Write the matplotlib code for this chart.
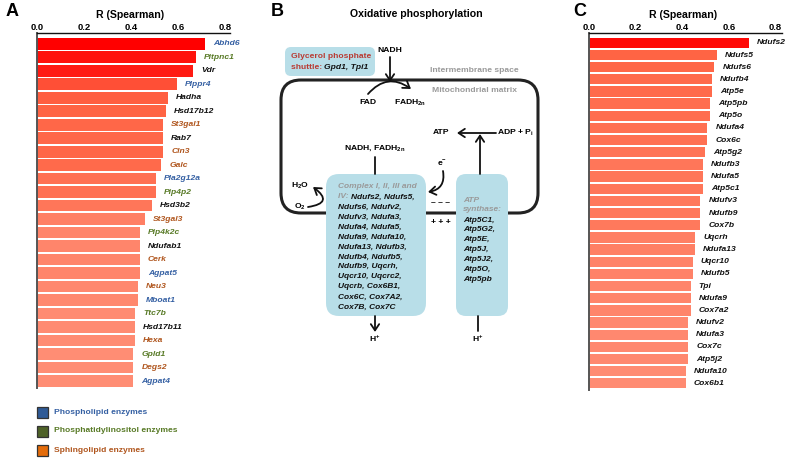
import matplotlib
matplotlib.use('Agg')
import matplotlib.pyplot as plt
from matplotlib.patches import FancyBboxPatch, Rectangle, FancyArrowPatch
from matplotlib.colors import to_rgb
import numpy as np

plt.rcParams['font.family'] = ['Liberation Sans', 'DejaVu Sans']
plt.rcParams['font.weight'] = 'bold'
plt.rcParams['mathtext.fontset'] = 'custom'
plt.rcParams['mathtext.rm'] = 'Liberation Sans:bold'
plt.rcParams['mathtext.it'] = 'Liberation Sans:bold:italic'
plt.rcParams['mathtext.bf'] = 'Liberation Sans:bold'

# ---------------- data ----------------
genes_a = ['Abhd6', 'Pitpnc1', 'Vdr', 'Plppr4', 'Hadha', 'Hsd17b12', 'St3gal1', 'Rab7',
           'Cln3', 'Galc', 'Pla2g12a', 'Pip4p2', 'Hsd3b2', 'St3gal3', 'Pip4k2c', 'Ndufab1',
           'Cerk', 'Agpat5', 'Neu3', 'Mboat1', 'Ttc7b', 'Hsd17b11', 'Hexa', 'Gpld1',
           'Degs2', 'Agpat4']
r_a = [0.715, 0.677, 0.665, 0.596, 0.558, 0.547, 0.537, 0.537, 0.537, 0.528, 0.506,
       0.506, 0.488, 0.458, 0.438, 0.438, 0.438, 0.438, 0.428, 0.428, 0.418, 0.418,
       0.418, 0.410, 0.410, 0.410]
group_a = ['PL', 'PI', 'O', 'PL', 'O', 'O', 'SL', 'O', 'SL', 'SL', 'PL', 'PI', 'O', 'SL',
           'PI', 'O', 'SL', 'PL', 'SL', 'PL', 'PI', 'O', 'SL', 'PI', 'SL', 'PL']

genes_c = ['Ndufs2', 'Ndufs5', 'Ndufs6', 'Ndufb4', 'Atp5e', 'Atp5pb', 'Atp5o', 'Ndufa4',
           'Cox6c', 'Atp5g2', 'Ndufb3', 'Ndufa5', 'Atp5c1', 'Ndufv3', 'Ndufb9', 'Cox7b',
           'Uqcrh', 'Ndufa13', 'Uqcr10', 'Ndufb5', 'Tpi', 'Ndufa9', 'Cox7a2', 'Ndufv2',
           'Ndufa3', 'Cox7c', 'Atp5j2', 'Ndufa10', 'Cox6b1']
r_c = [0.688, 0.548, 0.538, 0.528, 0.528, 0.518, 0.518, 0.508, 0.508, 0.498, 0.488,
       0.488, 0.488, 0.478, 0.478, 0.478, 0.456, 0.456, 0.446, 0.446, 0.436, 0.436,
       0.436, 0.426, 0.426, 0.426, 0.426, 0.416, 0.416]

xticks = [0.0, 0.2, 0.4, 0.6, 0.8]
xtick_labels = ['0.0', '0.2', '0.4', '0.6', '0.8']

legend_labels = ['Phospholipid enzymes', 'Phosphatidylinositol enzymes', 'Sphingolipid enzymes']
legend_groups = ['PL', 'PI', 'SL']

complex_lines = [
    [('Complex I, II, III and', 'g')],
    [('IV: ', 'g'), ('Ndufs2, Ndufs5,', 'k')],
    [('Ndufs6, Ndufv2,', 'k')],
    [('Ndufv3, Ndufa3,', 'k')],
    [('Ndufa4, Ndufa5,', 'k')],
    [('Ndufa9, Ndufa10,', 'k')],
    [('Ndufa13, Ndufb3,', 'k')],
    [('Ndufb4, Ndufb5,', 'k')],
    [('Ndufb9, Uqcrh,', 'k')],
    [('Uqcr10, Uqcrc2,', 'k')],
    [('Uqcrb, Cox6B1,', 'k')],
    [('Cox6C, Cox7A2,', 'k')],
    [('Cox7B, Cox7C', 'k')],
]
atp_lines = [
    [('ATP', 'g')],
    [('synthase:', 'g')],
    [('Atp5C1,', 'k')],
    [('Atp5G2,', 'k')],
    [('Atp5E,', 'k')],
    [('Atp5J,', 'k')],
    [('Atp5J2,', 'k')],
    [('Atp5O,', 'k')],
    [('Atp5pb', 'k')],
]

# ---------------- style ----------------
W, H, DPI = 789, 458, 100
label_colors = {'PL': '#3560A3', 'PI': '#587A26', 'SL': '#B0561E', 'O': '#111111'}
legend_fill = {'PL': '#2F5A96', 'PI': '#4F6228', 'SL': '#E46C0A'}
GRAY = '#9A9A9A'
BLUE_BOX = '#B8DEE8'
tcol = {'g': GRAY, 'k': '#111111', 'r': '#B83A32'}

anchor_v = [0.40, 0.55, 0.60, 0.70]
anchor_c = ['#FF9078', '#FF6343', '#FF4D35', '#FF0000']
_rgb = np.array([to_rgb(c) for c in anchor_c])


def bar_color(v):
    return tuple(float(np.interp(v, anchor_v, _rgb[:, k])) for k in range(3))


fig = plt.figure(figsize=(W / DPI, H / DPI), dpi=DPI)
fig.patch.set_facecolor('white')
ov = fig.add_axes([0, 0, 1, 1])
ov.set_xlim(0, W)
ov.set_ylim(H, 0)
ov.axis('off')
renderer = fig.canvas.get_renderer()


def bar_panel(left_px, px_per_unit, xmax, top_px, pitch, bar_h, top_units, bot_units,
              genes, vals, colors):
    n = len(genes)
    height_units = (n - 1) + top_units + bot_units
    hpx = height_units * pitch
    ax = fig.add_axes([left_px / W, 1 - (top_px + hpx) / H,
                       xmax * px_per_unit / W, hpx / H])
    y = np.arange(n)
    ax.barh(y, vals, height=bar_h, color=[bar_color(v) for v in vals],
            edgecolor='none', zorder=2)
    ax.set_ylim(n - 1 + bot_units, -top_units)
    ax.set_xlim(0, xmax)
    ax.xaxis.tick_top()
    ax.set_xticks(xticks)
    ax.set_xticklabels(xtick_labels, fontsize=6.8, fontweight='bold')
    ax.tick_params(axis='x', length=0, pad=1.0)
    ax.set_yticks([])
    ax.spines['right'].set_visible(False)
    ax.spines['bottom'].set_visible(False)
    ax.spines['top'].set_color('#111111')
    ax.spines['top'].set_linewidth(1.0)
    ax.spines['left'].set_color('#555555')
    ax.spines['left'].set_linewidth(1.4)
    ax.patch.set_alpha(0)
    for i, (g, v, c) in enumerate(zip(genes, vals, colors)):
        ax.annotate(g, (v, i), xytext=(8, 0), textcoords='offset pixels',
                    ha='left', va='center', fontsize=6.1, style='italic',
                    fontweight='bold', color=c, annotation_clip=False)
    return ax


bar_panel(37, 235, 0.82, 33, 13.49, 0.86, 0.80, 0.51,
          genes_a, r_a, [label_colors[g] for g in group_a])
bar_panel(589, 233, 0.83, 33, 12.16, 0.85, 0.81, 0.54,
          genes_c, r_c, ['#111111'] * len(genes_c))

# panel titles / letters
ov.text(130, 15, 'R (Spearman)', ha='center', va='center', fontsize=7.6, fontweight='bold')
ov.text(683, 15, 'R (Spearman)', ha='center', va='center', fontsize=7.6, fontweight='bold')
ov.text(416, 14, 'Oxidative phosphorylation', ha='center', va='center', fontsize=7.6,
        fontweight='bold')
for x, s in [(12, 'A'), (277, 'B'), (580, 'C')]:
    ov.text(x, 12, s, ha='center', va='center', fontsize=13, fontweight='bold')

# legend
for k, (lab, grp) in enumerate(zip(legend_labels, legend_groups)):
    yc = [412.5, 431, 450.5][k]
    ov.add_patch(Rectangle((37.5, yc - 5.5), 11, 11, fc=legend_fill[grp], ec='#333333',
                           lw=0.9, zorder=3))
    ov.text(54, yc, lab, ha='left', va='center', fontsize=6.1, fontweight='bold',
            color=label_colors[grp])


# ---------------- panel B diagram ----------------
def seg_text(x, y, segs, fs=6, italic=True):
    for s, c in segs:
        t = ov.text(x, y, s, ha='left', va='center', fontsize=fs, fontweight='bold',
                    style='italic' if italic else 'normal', color=tcol[c], zorder=5)
        bb = t.get_window_extent(renderer)
        x += bb.width


def arrow(p1, p2, rad=0.0, head=True, lw=1.3):
    style = '->,head_length=0.45,head_width=0.3' if head else '-'
    ap = FancyArrowPatch(p1, p2, arrowstyle=style, connectionstyle=f'arc3,rad={rad}',
                         mutation_scale=10, lw=lw, color='#111111', shrinkA=0, shrinkB=0,
                         zorder=4)
    ov.add_patch(ap)


# membrane
ov.add_patch(FancyBboxPatch((281, 80), 257, 133, boxstyle='round,pad=0,rounding_size=20',
                            fc='none', ec='#222222', lw=2.2, zorder=1))
# boxes
ov.add_patch(FancyBboxPatch((285, 47), 90, 29, boxstyle='round,pad=0,rounding_size=6',
                            fc=BLUE_BOX, ec='none', zorder=2))
ov.add_patch(FancyBboxPatch((326, 174), 100, 142, boxstyle='round,pad=0,rounding_size=13',
                            fc=BLUE_BOX, ec='none', zorder=2))
ov.add_patch(FancyBboxPatch((456, 174), 52, 142, boxstyle='round,pad=0,rounding_size=10',
                            fc=BLUE_BOX, ec='none', zorder=2))

# shuttle text
ov.text(291, 57, 'Glycerol phosphate', ha='left', va='center', fontsize=6.1,
        fontweight='bold', color=tcol['r'], zorder=5)
x0 = 291
t1 = ov.text(x0, 67.5, 'shuttle: ', ha='left', va='center', fontsize=6.1,
             fontweight='bold', color=tcol['r'], zorder=5)
w1 = t1.get_window_extent(renderer).width
ov.text(x0 + w1, 67.5, 'Gpd1, Tpi1', ha='left', va='center', fontsize=6.1,
        fontweight='bold', style='italic', color='#111111', zorder=5)

# labels
fs = 6.1
ov.text(390, 50, 'NADH', ha='center', va='center', fontsize=fs, fontweight='bold')
ov.text(430, 71, 'Intermembrane space', ha='left', va='center', fontsize=fs,
        fontweight='bold', color=GRAY)
ov.text(432, 90, 'Mitochondrial matrix', ha='left', va='center', fontsize=fs,
        fontweight='bold', color=GRAY)
ov.text(368, 103, 'FAD', ha='center', va='center', fontsize=fs, fontweight='bold')
ov.text(410, 103, r'FADH$_{\mathregular{2n}}$', ha='center', va='center', fontsize=fs)
ov.text(441, 133, 'ATP', ha='center', va='center', fontsize=fs, fontweight='bold')
ov.text(497, 133, r'ADP + P$_{\mathregular{i}}$', ha='left', va='center', fontsize=fs)
ov.text(375, 148, r'NADH, FADH$_{\mathregular{2n}}$', ha='center', va='center', fontsize=fs)
ov.text(442, 164, r'e$^{\mathregular{-}}$', ha='center', va='center', fontsize=fs)
ov.text(300, 186, r'H$_{\mathregular{2}}$O', ha='center', va='center', fontsize=fs)
ov.text(300, 207, r'O$_{\mathregular{2}}$', ha='center', va='center', fontsize=fs)
ov.text(441, 203, '\u2013 \u2013 \u2013', ha='center', va='center', fontsize=fs, fontweight='bold')
ov.text(441, 222, '+ + +', ha='center', va='center', fontsize=fs, fontweight='bold')
ov.text(375, 339, r'H$^{\mathregular{+}}$', ha='center', va='center', fontsize=fs)
ov.text(478, 339, r'H$^{\mathregular{+}}$', ha='center', va='center', fontsize=fs)

# box contents
for k, segs in enumerate(complex_lines):
    seg_text(338, 187 + k * 10.0, segs)
for k, segs in enumerate(atp_lines):
    yy = [200, 209.5, 220, 229.5, 239.5, 249.5, 259.5, 269.5, 279.5][k]
    seg_text(463, yy, segs)

# arrows & lines
arrow((390, 57), (390, 82))
arrow((368, 94), (411, 89), rad=-0.45)
arrow((496, 133), (457, 133))
arrow((480, 174), (480, 134))
arrow((375, 157), (375, 174), head=False)
arrow((443, 171), (428, 192), rad=-0.5)
arrow((308, 207), (313, 187), rad=1.2)
arrow((375, 316), (375, 332))
arrow((478, 316), (478, 331), head=False)

fig.savefig('out.png', dpi=DPI, facecolor='white')
